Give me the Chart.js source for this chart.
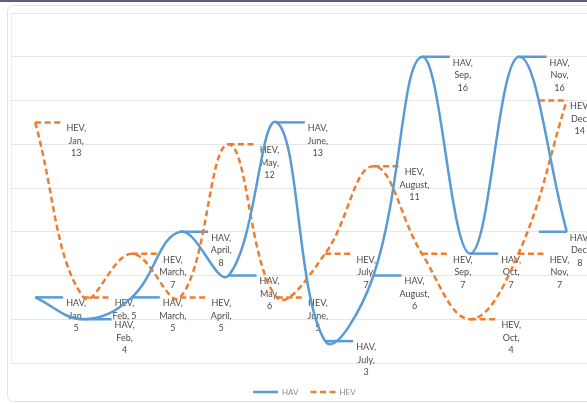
<!DOCTYPE html>
<html>
<head>
<meta charset="utf-8">
<script src="https://cdn.jsdelivr.net/npm/chart.js@4.4.1/dist/chart.umd.min.js"></script>
<style>
  html, body { margin: 0; padding: 0; background: #ffffff; overflow: hidden; }
  #wrap { position: relative; width: 600px; height: 404px; }
  canvas { display: block; }
</style>
</head>
<body>
<div id="wrap"><canvas id="chart" width="600" height="404"></canvas></div>
<script>
// Monthly counts for the two series
const months = ['Jan', 'Feb', 'March', 'April', 'May', 'June', 'July', 'August', 'Sep', 'Oct', 'Nov', 'Dec'];
const havCounts = [5, 4, 5, 8, 6, 13, 3, 6, 16, 7, 16, 8];
const hevCounts = [13, 5, 7, 5, 12, 5, 7, 11, 7, 4, 7, 14];
// value axis range and gridline step
const yMin = 2;
const yMax = 18;
const yStep = 2;
// labels whose month and value share one line
const compactLabels = { HEV: ['Feb'] };

const BLUE = '#5b9bd5';
const ORANGE = '#ed7d31';
const LABEL_FONT = '9px Lato, "Liberation Sans", sans-serif';

function labelLines(series, idx, value) {
  const m = months[idx];
  if ((compactLabels[series] || []).includes(m)) return [series + ',', m + ', ' + value];
  return [series + ',', m + ',', String(value)];
}

// Frame around the chart and the dark strip at the very top
const framePlugin = {
  id: 'frame',
  beforeDraw(chart) {
    const ctx = chart.ctx;
    ctx.save();
    ctx.fillStyle = '#ffffff';
    ctx.fillRect(0, 0, chart.width, chart.height);
    ctx.fillStyle = '#5f5b82';
    ctx.fillRect(0, 0, chart.width, 2);
    ctx.strokeStyle = '#e2e2e2';
    ctx.lineWidth = 1;
    ctx.beginPath();
    if (ctx.roundRect) ctx.roundRect(7.5, 5.5, chart.width + 20, 396, 6);
    else ctx.rect(7.5, 5.5, chart.width + 20, 396);
    ctx.stroke();
    const a = chart.chartArea;
    ctx.strokeStyle = '#ececec';
    ctx.beginPath();
    ctx.moveTo(a.left + 0.5, a.top);
    ctx.lineTo(a.left + 0.5, a.bottom);
    ctx.stroke();
    ctx.restore();
  }
};

// Data labels: a short legend key beside each point followed by "series, month, value"
const pointLabelPlugin = {
  id: 'pointLabels',
  beforeDatasetsDraw(chart) {
    const ctx = chart.ctx;
    chart.data.datasets.forEach((ds, di) => {
      const meta = chart.getDatasetMeta(di);
      meta.data.forEach((pt, i) => {
        const keyLen = 28;
        let keyX = pt.x;
        if (pt.x + 58 > chart.width) keyX = pt.x - keyLen;
        const keyEnd = keyX + keyLen;
        ctx.save();
        ctx.strokeStyle = ds.borderColor;
        ctx.lineWidth = ds.borderWidth;
        ctx.setLineDash(ds.borderDash || []);
        ctx.beginPath();
        ctx.moveTo(keyX, pt.y);
        ctx.lineTo(keyEnd, pt.y);
        ctx.stroke();
        ctx.restore();

        const lines = labelLines(ds.label, i, ds.data[i]);
        const cx = keyEnd + 13;
        ctx.save();
        ctx.font = LABEL_FONT;
        ctx.fillStyle = '#4a4a4a';
        ctx.textAlign = 'center';
        ctx.textBaseline = 'middle';
        lines.forEach((t, k) => ctx.fillText(t, cx, pt.y + 6 + k * 12.5));
        ctx.restore();
      });
    });
  }
};

// Legend below the plot
const legendPlugin = {
  id: 'bottomLegend',
  afterDraw(chart) {
    const ctx = chart.ctx;
    const y = 392;
    let x = 253;
    chart.data.datasets.forEach(ds => {
      ctx.save();
      ctx.strokeStyle = ds.borderColor;
      ctx.lineWidth = ds.borderWidth;
      ctx.setLineDash(ds.borderDash || []);
      ctx.beginPath();
      ctx.moveTo(x, y);
      ctx.lineTo(x + 25, y);
      ctx.stroke();
      ctx.restore();
      ctx.save();
      ctx.font = '8px Lato, "Liberation Sans", sans-serif';
      ctx.fillStyle = '#8c8c8c';
      ctx.textBaseline = 'middle';
      ctx.fillText(ds.label, x + 29, y);
      const w = ctx.measureText(ds.label).width;
      ctx.restore();
      x += 25 + 29 + w - 25 + 12;
    });
  }
};

new Chart(document.getElementById('chart'), {
  type: 'line',
  data: {
    labels: months,
    datasets: [
      {
        label: 'HAV',
        data: havCounts,
        borderColor: BLUE,
        backgroundColor: BLUE,
        borderWidth: 2.5,
        pointRadius: 0,
        tension: 0.4,
        fill: false
      },
      {
        label: 'HEV',
        data: hevCounts,
        borderColor: ORANGE,
        backgroundColor: ORANGE,
        borderWidth: 2.5,
        borderDash: [6, 3.5],
        pointRadius: 0,
        tension: 0.4,
        fill: false
      }
    ]
  },
  options: {
    responsive: false,
    animation: false,
    devicePixelRatio: 1,
    layout: { padding: { left: 11, right: 9, top: 13, bottom: 41 } },
    plugins: {
      legend: { display: false },
      tooltip: { enabled: false }
    },
    scales: {
      x: {
        type: 'category',
        offset: true,
        display: false
      },
      y: {
        min: yMin,
        max: yMax,
        ticks: { display: false, stepSize: yStep },
        border: { display: false },
        grid: { color: '#e6e6e6', lineWidth: 1, drawTicks: false }
      }
    }
  },
  plugins: [framePlugin, pointLabelPlugin, legendPlugin]
});
</script>
</body>
</html>
